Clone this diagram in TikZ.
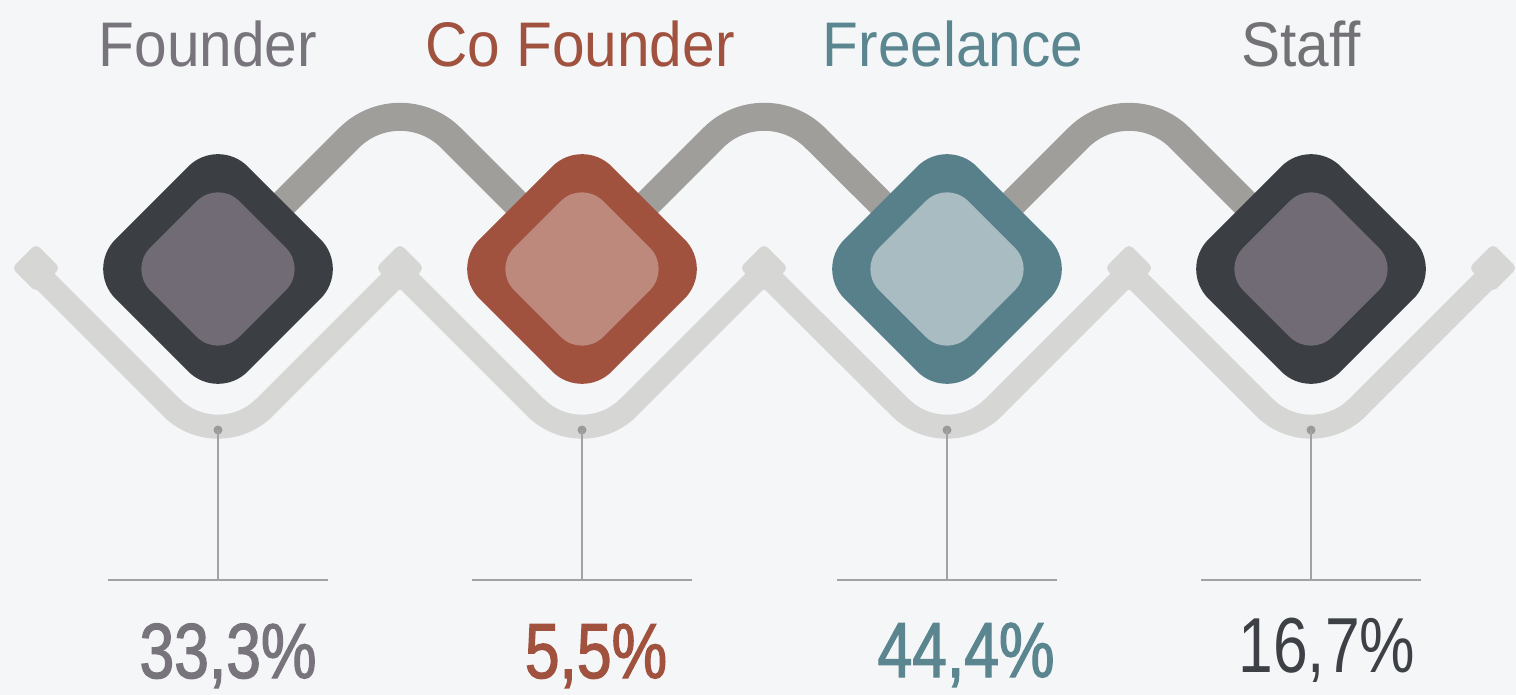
\documentclass[tikz,border=0pt]{standalone}
\usepackage{fontspec}
\setmainfont{Liberation Sans}
\newfontfamily\titlefont{Liberation Sans}[FakeStretch=0.93]
\newfontfamily\pctfont{Liberation Sans}[FakeStretch=0.8]
\newfontfamily\pctboldfont{Liberation Sans}[FakeStretch=0.8, FakeBold=1.6]
\definecolor{bg}{HTML}{F4F6F8}
\definecolor{lowgray}{HTML}{D6D6D4}
\definecolor{upgray}{HTML}{A09E9B}
\definecolor{darkout}{HTML}{3B3E43}
\definecolor{darkin}{HTML}{716B75}
\definecolor{redout}{HTML}{A0523F}
\definecolor{redin}{HTML}{BD897C}
\definecolor{tealout}{HTML}{58808A}
\definecolor{tealin}{HTML}{A9BCC2}
\definecolor{leader}{HTML}{A2A2A2}
\definecolor{dotgray}{HTML}{9A9A9A}
\definecolor{titlegray}{HTML}{77747B}
\definecolor{staffgray}{HTML}{727175}
\definecolor{tealtext}{HTML}{5B8690}
\definecolor{darktext}{HTML}{3D4045}
\begin{document}
\begin{tikzpicture}[x=1pt,y=-1pt,
  lowline/.style={line width=24pt, draw=lowgray, line cap=butt, line join=miter, rounded corners=66pt},
  capdiamond/.style={fill=lowgray, minimum size=34pt, rotate=45, rounded corners=5pt, inner sep=0pt, outer sep=0pt},
  upline/.style={line width=28pt, draw=upgray, line cap=butt, rounded corners=72pt},
  outerdia/.style={minimum size=187pt, rotate=45, rounded corners=42pt, inner sep=0pt, outer sep=0pt},
  innerdia/.style={minimum size=126pt, rotate=45, rounded corners=30pt, inner sep=0pt, outer sep=0pt},
  dotnode/.style={circle, fill=dotgray, minimum size=9pt, inner sep=0pt, outer sep=0pt},
  leaderline/.style={line width=2.2pt, draw=leader},
  titletext/.style={anchor=base, inner sep=0pt, font=\titlefont\fontsize{63}{70}\selectfont},
  pcttext/.style={anchor=base, inner sep=0pt, font=\pctfont\fontsize{78}{90}\selectfont},
  pctbold/.style={anchor=base, inner sep=0pt, font=\pctboldfont\fontsize{78}{90}\selectfont}
]
\useasboundingbox (0,0) rectangle (1516,695);
\fill[bg] (0,0) rectangle (1516,695);

% coordinates
\coordinate (c1) at (218,269);
\coordinate (c2) at (582,269);
\coordinate (c3) at (947,269);
\coordinate (c4) at (1311,269);
\coordinate (p0) at (36,272);
\coordinate (p1) at (400,272);
\coordinate (p2) at (764,272);
\coordinate (p3) at (1129,272);
\coordinate (p4) at (1493,272);
\coordinate (v1) at (218,454);
\coordinate (v2) at (582,454);
\coordinate (v3) at (947,454);
\coordinate (v4) at (1311,454);
\coordinate (u1) at (400,87);
\coordinate (u2) at (764,87);
\coordinate (u3) at (1129,87);

% lower light zigzag
\draw[lowline] (p0) -- (v1) -- (p1);
\draw[lowline] (p1) -- (v2) -- (p2);
\draw[lowline] (p2) -- (v3) -- (p3);
\draw[lowline] (p3) -- (v4) -- (p4);
\node[capdiamond] (k0) at (36,268) {};
\node[capdiamond] (k1) at (400,268) {};
\node[capdiamond] (k2) at (764,268) {};
\node[capdiamond] (k3) at (1129,268) {};
\node[capdiamond] (k4) at (1493,268) {};

% upper dark-gray connectors
\draw[upline] (c1) -- (u1) -- (c2);
\draw[upline] (c2) -- (u2) -- (c3);
\draw[upline] (c3) -- (u3) -- (c4);

% diamonds
\node[outerdia, fill=darkout] (d1) at (c1) {};
\node[innerdia, fill=darkin] (i1) at (c1) {};
\node[outerdia, fill=redout] (d2) at (c2) {};
\node[innerdia, fill=redin] (i2) at (c2) {};
\node[outerdia, fill=tealout] (d3) at (c3) {};
\node[innerdia, fill=tealin] (i3) at (c3) {};
\node[outerdia, fill=darkout] (d4) at (c4) {};
\node[innerdia, fill=darkin] (i4) at (c4) {};

% dots and leaders
\foreach \i/\x in {1/218,2/582,3/947,4/1311}{
  \node[dotnode] (dot\i) at (\x,430) {};
  \coordinate (b\i) at (\x,580);
  \coordinate (bl\i) at (\x-110,580);
  \coordinate (br\i) at (\x+110,580);
  \draw[leaderline] (dot\i.center) -- (b\i);
  \draw[leaderline] (bl\i) -- (br\i);
}

% titles
\node[titletext, text=titlegray] (t1) at (208,67) {Founder};
\node[titletext, text=redout] (t2) at (580,67) {Co Founder};
\node[titletext, text=tealtext] (t3) at (953,67) {Freelance};
\node[titletext, text=staffgray] (t4) at (1301,67) {Staff};

% percentages
\node[pctbold, text=titlegray] (n1) at (228,678) {33,3\%};
\node[pctbold, text=redout] (n2) at (596,678) {5,5\%};
\node[pctbold, text=tealtext] (n3) at (966,677) {44,4\%};
\node[pcttext, text=darktext] (n4) at (1327,672) {16,7\%};
\end{tikzpicture}
\end{document}
